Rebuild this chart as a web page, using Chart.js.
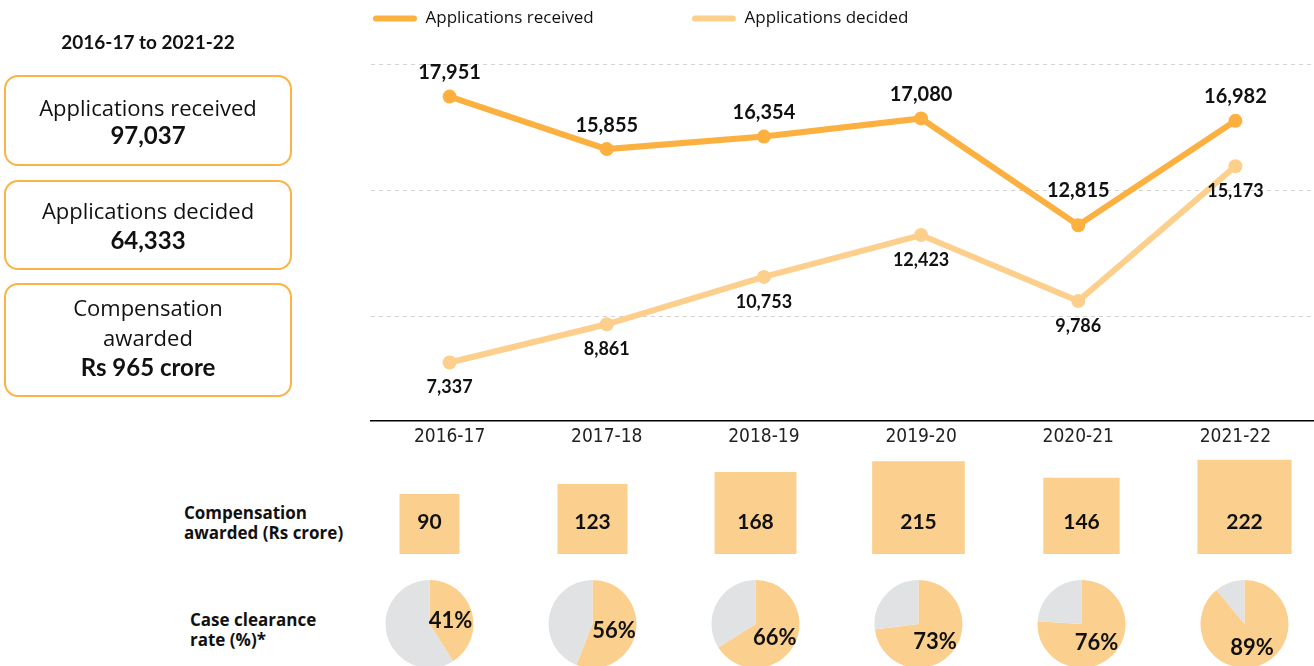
<!DOCTYPE html>
<html>
<head>
<meta charset="utf-8">
<script src="https://cdn.jsdelivr.net/npm/chart.js@4.4.1/dist/chart.umd.min.js"></script>
<style>
html,body{margin:0;padding:0;background:#fff;overflow:hidden;width:1314px;height:666px;}
body{position:relative;font-family:"Open Sans","Noto Sans",sans-serif;color:#111;}
canvas{display:block;}
#lineCanvas{position:absolute;left:0;top:0;}
#boxCanvas{position:absolute;left:348px;top:450px;}
#pies{position:absolute;left:348px;top:580px;display:flex;}
.period{position:absolute;left:0;width:296px;top:31px;text-align:center;font-family:Lato,sans-serif;font-weight:700;font-size:19px;line-height:22px;}
.card{position:absolute;left:4px;width:288px;border:2px solid #FBB347;border-radius:14px;box-sizing:border-box;display:flex;flex-direction:column;justify-content:center;align-items:center;text-align:center;font-size:22px;}
.card b{font-family:Lato,sans-serif;font-weight:700;font-size:24px;}
.rowlabel{position:absolute;font-weight:700;font-size:17px;line-height:20px;}
</style>
</head>
<body>
<canvas id="lineCanvas" width="1314" height="455"></canvas>
<canvas id="boxCanvas" width="978" height="110"></canvas>
<div id="pies"></div>

<div class="period">2016-17 to 2021-22</div>
<div class="card" style="top:75px;height:91px;line-height:28px;"><span>Applications received</span><b id="totRec"></b></div>
<div class="card" style="top:180px;height:90px;line-height:29px;"><span>Applications decided</span><b id="totDec"></b></div>
<div class="card" style="top:283px;height:114px;line-height:30px;padding-bottom:6px;"><span>Compensation</span><span>awarded</span><b>Rs 965 crore</b></div>
<div class="rowlabel" style="left:184px;top:503px;">Compensation<br>awarded (Rs crore)</div>
<div class="rowlabel" style="left:190px;top:610px;">Case clearance<br>rate (%)*</div>

<script>
// ---------- data ----------
const years = ['2016-17', '2017-18', '2018-19', '2019-20', '2020-21', '2021-22'];
const received = [17951, 15855, 16354, 17080, 12815, 16982];
const decided = [7337, 8861, 10753, 12423, 9786, 15173];
const compensation = [90, 123, 168, 215, 146, 222];   // Rs crore
const clearance = [41, 56, 66, 73, 76, 89];            // %
const gridValues = [9190, 14220, 19250];

// ---------- style ----------
const ORANGE = '#FBB040';
const LIGHT = '#FDCF8C';
const BOX = '#FBCF8E';
const GREY = '#E1E2E4';
const TEXT = '#111111';
const NUMFONT = 'Lato, "Noto Sans", sans-serif';
const TXTFONT = '"Open Sans", "Noto Sans", sans-serif';

document.getElementById('totRec').textContent = received.reduce((a, b) => a + b, 0).toLocaleString('en-US');
document.getElementById('totDec').textContent = decided.reduce((a, b) => a + b, 0).toLocaleString('en-US');

// ---------- line chart ----------
const pointLabels = {
  id: 'pointLabels',
  afterDatasetsDraw(chart) {
    const ctx = chart.ctx;
    chart.data.datasets.forEach((ds, i) => {
      const pts = chart.getDatasetMeta(i).data;
      ctx.save();
      ctx.font = `700 ${ds.labelSize}px ${NUMFONT}`;
      ctx.fillStyle = TEXT;
      ctx.textAlign = 'center';
      ctx.textBaseline = 'middle';
      pts.forEach((pt, j) => {
        const txt = ds.data[j].toLocaleString('en-US');
        let y;
        if (ds.labelPos === 'above') {
          y = pt.y - 24;
          // keep the label clear of the line segments on either side
          const half = ctx.measureText(txt).width / 2;
          [pts[j - 1], pts[j + 1]].forEach(nb => {
            if (!nb) return;
            const segY = pt.y + (nb.y - pt.y) * half / Math.abs(nb.x - pt.x);
            y = Math.min(y, segY - 13);
          });
        } else {
          y = pt.y + 25;
        }
        ctx.fillText(txt, pt.x, y);
      });
      ctx.restore();
    });
  }
};

new Chart(document.getElementById('lineCanvas'), {
  type: 'line',
  data: {
    labels: years,
    datasets: [
      { label: 'Applications received', data: received, borderColor: ORANGE, backgroundColor: ORANGE,
        borderWidth: 6, pointRadius: 7, pointBackgroundColor: ORANGE, pointBorderWidth: 0, tension: 0,
        labelPos: 'above', labelSize: 20 },
      { label: 'Applications decided', data: decided, borderColor: LIGHT, backgroundColor: LIGHT,
        borderWidth: 6, pointRadius: 7, pointBackgroundColor: LIGHT, pointBorderWidth: 0, tension: 0,
        labelPos: 'below', labelSize: 18 }
    ]
  },
  options: {
    responsive: false, animation: false, devicePixelRatio: 1, events: [],
    layout: { autoPadding: false, padding: { left: 363, right: 0, top: 0, bottom: 0 } },
    plugins: {
      tooltip: { enabled: false },
      legend: {
        display: true, position: 'top', align: 'start',
        labels: {
          boxWidth: 44, boxHeight: 6, padding: 10, useBorderRadius: true, borderRadius: 3,
          color: TEXT, font: { family: TXTFONT, size: 17 },
          generateLabels(chart) {
            const items = Chart.defaults.plugins.legend.labels.generateLabels(chart);
            items.forEach(it => { it.lineWidth = 0; });
            items[0].text = items[0].text + '\u00A0'.repeat(20);
            return items;
          }
        }
      }
    },
    scales: {
      x: {
        offset: true,
        grid: { display: false, drawTicks: false },
        border: { display: true, color: '#000', width: 1.5 },
        ticks: { color: '#222', padding: 5, maxRotation: 0, autoSkip: false,
                 font: { family: '"DejaVu Sans Condensed", "DejaVu Sans", sans-serif', size: 19 } },
        afterFit(s) { s.height = 34; }
      },
      y: {
        min: 5000, max: 20330,
        afterBuildTicks(s) { s.ticks = gridValues.map(v => ({ value: v })); },
        ticks: { display: false },
        border: { display: false, dash: [4, 4] },
        grid: { color: '#D2D2D2', lineWidth: 1, drawTicks: false },
        afterFit(s) { s.width = 8; }
      }
    }
  },
  plugins: [pointLabels]
});

// ---------- compensation squares (area ~ value) ----------
const BOX_SCALE = 6.32; // px of side per sqrt(Rs crore)
const boxSide = v => BOX_SCALE * Math.sqrt(v);
const boxLabels = {
  id: 'boxLabels',
  afterDatasetsDraw(chart) {
    const ctx = chart.ctx;
    const meta = chart.getDatasetMeta(0);
    ctx.save();
    ctx.font = `700 21px ${NUMFONT}`;
    ctx.fillStyle = TEXT;
    ctx.textAlign = 'center';
    ctx.textBaseline = 'middle';
    meta.data.forEach((pt, j) => ctx.fillText(String(compensation[j]), pt.x, chart.chartArea.bottom - 32));
    ctx.restore();
  }
};
new Chart(document.getElementById('boxCanvas'), {
  type: 'line',
  data: {
    labels: years,
    datasets: [{
      data: compensation.map(v => boxSide(v) / 2),
      showLine: false, clip: false,
      pointStyle: 'rect',
      pointRadius: c => boxSide(compensation[c.dataIndex]) / Math.SQRT2,
      pointBackgroundColor: BOX, pointBorderWidth: 0
    }]
  },
  options: {
    responsive: false, animation: false, devicePixelRatio: 1, events: [],
    layout: { autoPadding: false, padding: { left: 0, right: 0, top: 0, bottom: 6 } },
    plugins: { legend: { display: false }, tooltip: { enabled: false } },
    scales: {
      x: { display: false, offset: true },
      y: { display: false, min: 0, max: 104 }
    }
  },
  plugins: [boxLabels]
});

// ---------- clearance pies ----------
const pieLabel = {
  id: 'pieLabel',
  afterDatasetsDraw(chart) {
    const ctx = chart.ctx;
    const arc = chart.getDatasetMeta(0).data[0];
    const p = arc.tooltipPosition();
    ctx.save();
    ctx.font = `700 22px ${NUMFONT}`;
    ctx.fillStyle = TEXT;
    ctx.textAlign = 'center';
    ctx.textBaseline = 'middle';
    ctx.fillText(chart.data.datasets[0].data[0] + '%', p.x, p.y + 3);
    ctx.restore();
  }
};
const pies = document.getElementById('pies');
clearance.forEach(v => {
  const c = document.createElement('canvas');
  c.width = 163; c.height = 88;
  pies.appendChild(c);
  new Chart(c, {
    type: 'pie',
    data: { labels: ['Cleared', 'Pending'], datasets: [{ data: [v, 100 - v], backgroundColor: [BOX, GREY], borderWidth: 0 }] },
    options: {
      responsive: false, animation: false, devicePixelRatio: 1, events: [],
      plugins: { legend: { display: false }, tooltip: { enabled: false } }
    },
    plugins: [pieLabel]
  });
});
</script>
</body>
</html>
